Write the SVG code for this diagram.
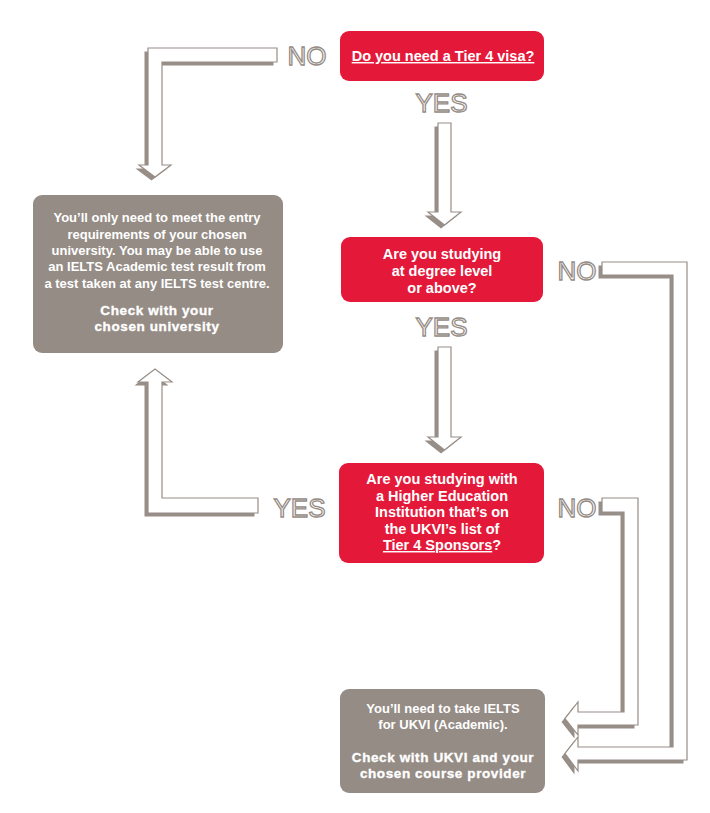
<svg xmlns="http://www.w3.org/2000/svg" width="710" height="813" viewBox="0 0 710 813">
<style>
.red{fill:#e4193a}
.grey{fill:#958c85}
.bt{font-family:"Liberation Sans",Arial,sans-serif;font-weight:bold;fill:#ffffff;text-anchor:middle}
.q{font-size:14.5px}
.g{font-size:13px}
.h{font-size:13.5px;letter-spacing:0.6px;stroke:#ffffff;stroke-width:0.35}
.lab{font-family:"Liberation Sans",Arial,sans-serif;font-size:26px;fill:#ffffff;stroke:#958c85;stroke-width:1.3;text-anchor:middle}
.shadow{fill:#978e87}
.arr{fill:#ffffff;stroke:#978e87;stroke-width:1.2;stroke-linejoin:miter}
</style>
<defs>
<path id="a1" d="M148,48 H277 V62 H162 V165 H171 L155,177 L139,165 H148 Z"/>
<path id="a2" d="M438,123 H451 V212 H461 L444.5,225 L428,212 H438 Z"/>
<path id="a3" d="M438,347 H451 V437 H461 L444.5,450 L428,437 H438 Z"/>
<path id="a4" d="M148,513 V382 H138 L155,369 L172,382 H162 V498 H258 V513 Z"/>
<path id="a5" d="M602,262 H687 V760 H578 V771 L565,753.5 L578,737 V747 H673 V275 H602 Z"/>
<path id="a6" d="M602,498 H638 V725 H578 V735 L565,718.5 L578,702 V712 H624 V512 H602 Z"/>
</defs>
<rect width="710" height="813" fill="#ffffff"/>
<g id="connectors">
<g id="arrow-no-1"><use href="#a1" class="shadow" transform="translate(-3.5,3.5)"/><use href="#a1" class="arr"/></g>
<g id="arrow-yes-1"><use href="#a2" class="shadow" transform="translate(-3.5,3.5)"/><use href="#a2" class="arr"/></g>
<g id="arrow-yes-2"><use href="#a3" class="shadow" transform="translate(-3.5,3.5)"/><use href="#a3" class="arr"/></g>
<g id="arrow-yes-3"><use href="#a4" class="shadow" transform="translate(-3.5,3.5)"/><use href="#a4" class="arr"/></g>
<g id="arrow-no-2"><use href="#a5" class="shadow" transform="translate(-3.5,3.5)"/><use href="#a5" class="arr"/></g>
<g id="arrow-no-3"><use href="#a6" class="shadow" transform="translate(-3.5,3.5)"/><use href="#a6" class="arr"/></g>
<text class="lab" x="307" y="65">NO</text>
<text class="lab" x="441.5" y="112">YES</text>
<text class="lab" x="441.5" y="336">YES</text>
<text class="lab" x="577" y="280">NO</text>
<text class="lab" x="299.5" y="517">YES</text>
<text class="lab" x="577" y="517">NO</text>
</g>
<g id="q1">
<rect class="red" x="340" y="31" width="204" height="50" rx="9"/>
<text class="bt q" x="443" y="61" text-decoration="underline">Do you need a Tier 4 visa?</text>
</g>
<g id="q2">
<rect class="red" x="341" y="237" width="202" height="65" rx="9"/>
<text class="bt q" x="442" y="259">Are you studying</text>
<text class="bt q" x="442" y="276">at degree level</text>
<text class="bt q" x="442" y="293">or above?</text>
</g>
<g id="q3">
<rect class="red" x="339" y="463" width="205" height="100" rx="9"/>
<text class="bt q" x="442" y="484">Are you studying with</text>
<text class="bt q" x="442" y="500.5">a Higher Education</text>
<text class="bt q" x="442" y="517">Institution that’s on</text>
<text class="bt q" x="442" y="533.5">the UKVI’s list of</text>
<text class="bt q" x="442" y="550"><tspan text-decoration="underline">Tier 4 Sponsors</tspan>?</text>
</g>
<g id="r1">
<rect class="grey" x="33" y="195" width="250" height="158" rx="9"/>
<text class="bt g" x="157" y="222">You’ll only need to meet the entry</text>
<text class="bt g" x="157" y="238.5">requirements of your chosen</text>
<text class="bt g" x="157" y="255">university. You may be able to use</text>
<text class="bt g" x="157" y="271">an IELTS Academic test result from</text>
<text class="bt g" x="157" y="287.5">a test taken at any IELTS test centre.</text>
<text class="bt h" x="157" y="315">Check with your</text>
<text class="bt h" x="157" y="330.5">chosen university</text>
</g>
<g id="r2">
<rect class="grey" x="340" y="689" width="205" height="104" rx="9"/>
<text class="bt g" x="443" y="713">You’ll need to take IELTS</text>
<text class="bt g" x="443" y="729">for UKVI (Academic).</text>
<text class="bt h" x="443" y="762">Check with UKVI and your</text>
<text class="bt h" x="443" y="777.5">chosen course provider</text>
</g>
</svg>
